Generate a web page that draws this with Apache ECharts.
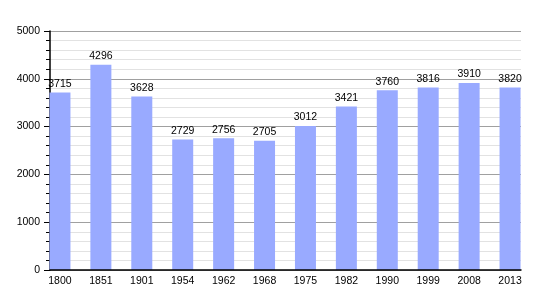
<!DOCTYPE html>
<html><head><meta charset="utf-8">
<script src="https://cdn.jsdelivr.net/npm/echarts@6/dist/echarts.min.js"></script>
<style>html,body{margin:0;padding:0;background:#fff}#c{width:550px;height:300px}</style>
</head><body><div id="c"></div>
<script>
const years = ['1800','1851','1901','1954','1962','1968','1975','1982','1990','1999','2008','2013'];
const population = [3715,4296,3628,2729,2756,2705,3012,3421,3760,3816,3910,3820];
const yTicks = [0,1000,2000,3000,4000,5000];
const chart = echarts.init(document.getElementById('c'));
const yMin = yTicks[0], yMax = yTicks[yTicks.length-1];
chart.setOption({
  animation:false,
  textStyle:{fontFamily:'Liberation Sans, Arial, sans-serif'},
  grid:[{left:50,right:29,top:31,bottom:30},{left:39.5,right:19.5,top:31,bottom:30}],
  xAxis:[
    {type:'category',gridIndex:0,data:years,z:5,
      axisLine:{lineStyle:{color:'#000',width:1.5}},
      axisTick:{show:false},axisLabel:{show:false}},
    {type:'category',gridIndex:1,data:years,
      axisLine:{show:false},axisTick:{show:false},
      axisLabel:{color:'#000',fontSize:10.5,margin:6}}
  ],
  yAxis:[
    {type:'value',gridIndex:0,min:yMin,max:yMax,interval:1000,z:0,
      axisLine:{show:true,lineStyle:{color:'#000',width:1.5}},
      axisTick:{show:true,inside:false,length:6,lineStyle:{color:'#000'}},
      minorTick:{show:true,splitNumber:5,length:4,lineStyle:{color:'#000'}},
      splitLine:{lineStyle:{color:'#a0a0a0'}},
      minorSplitLine:{show:true,lineStyle:{color:'#e2e2e2'}},
      axisLabel:{color:'#000',fontSize:10.5,margin:10,formatter:v=>String(v)}},
    {type:'value',gridIndex:1,min:yMin,max:yMax,interval:1000,show:false,
      splitLine:{show:false}}
  ],
  series:[{type:'bar',xAxisIndex:1,yAxisIndex:1,data:population,barWidth:21,z:2,
    itemStyle:{color:'#99aaff'},
    label:{show:true,position:'top',color:'#000',fontSize:10.5,distance:3}}]
});
</script></body></html>
